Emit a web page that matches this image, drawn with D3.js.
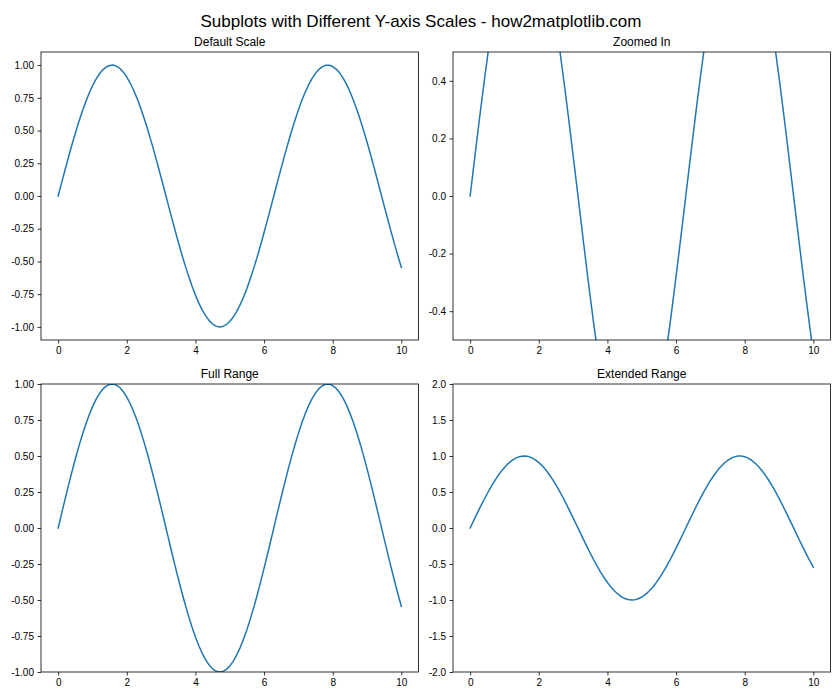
<!DOCTYPE html>
<html><head><meta charset="utf-8">
<script src="https://cdn.jsdelivr.net/npm/d3@7"></script>
<style>body{margin:0;background:#fff}svg{display:block}text{font-family:"Liberation Sans",Arial,sans-serif;fill:#000}</style>
</head><body><svg id="c" width="840" height="700"></svg>
<script>
const xValues = [0,0.1,0.2,0.3,0.4,0.5,0.6,0.7,0.8,0.9,1,1.1,1.2,1.3,1.4,1.5,1.6,1.7,1.8,1.9,2,2.1,2.2,2.3,2.4,2.5,2.6,2.7,2.8,2.9,3,3.1,3.2,3.3,3.4,3.5,3.6,3.7,3.8,3.9,4,4.1,4.2,4.3,4.4,4.5,4.6,4.7,4.8,4.9,5,5.1,5.2,5.3,5.4,5.5,5.6,5.7,5.8,5.9,6,6.1,6.2,6.3,6.4,6.5,6.6,6.7,6.8,6.9,7,7.1,7.2,7.3,7.4,7.5,7.6,7.7,7.8,7.9,8,8.1,8.2,8.3,8.4,8.5,8.6,8.7,8.8,8.9,9,9.1,9.2,9.3,9.4,9.5,9.6,9.7,9.8,9.9,10];
const yValues = [0.000,0.100,0.199,0.296,0.389,0.479,0.565,0.644,0.717,0.783,0.841,0.891,0.932,0.964,0.985,0.997,1.000,0.992,0.974,0.946,0.909,0.863,0.808,0.746,0.675,0.598,0.516,0.427,0.335,0.239,0.141,0.042,-0.058,-0.158,-0.256,-0.351,-0.443,-0.530,-0.612,-0.688,-0.757,-0.818,-0.872,-0.916,-0.952,-0.978,-0.994,-1.000,-0.996,-0.982,-0.959,-0.926,-0.883,-0.832,-0.773,-0.706,-0.631,-0.551,-0.465,-0.374,-0.279,-0.182,-0.083,0.017,0.117,0.215,0.312,0.405,0.494,0.578,0.657,0.729,0.794,0.850,0.899,0.938,0.968,0.988,0.999,0.999,0.989,0.970,0.941,0.902,0.855,0.798,0.734,0.663,0.585,0.501,0.412,0.319,0.223,0.124,0.025,-0.075,-0.174,-0.272,-0.366,-0.458,-0.544];
const xTicks = [0,2,4,6,8,10];
const panelTitles = ["Default Scale","Zoomed In","Full Range","Extended Range"];
const yDomains = [[-1.1,1.1],[-0.5,0.5],[-1,1],[-2,2]];
const yTickLists = [
  [-1,-0.75,-0.5,-0.25,0,0.25,0.5,0.75,1],
  [-0.4,-0.2,0,0.2,0.4],
  [-1,-0.75,-0.5,-0.25,0,0.25,0.5,0.75,1],
  [-2,-1.5,-1,-0.5,0,0.5,1,1.5,2]
];
const yFormats = [".2f",".1f",".2f",".1f"];
const suptitle = "Subplots with Different Y-axis Scales - how2matplotlib.com";

const svg = d3.select("#c");
const data = xValues.map((x,i)=>({x, y:yValues[i]}));
svg.append("text").attr("x",421).attr("y",27).attr("text-anchor","middle")
  .style("font-size","17px").text(suptitle);

const lefts=[41,453], tops=[52,384], W=377.5, H=288;
panelTitles.forEach((t,i)=>{
  const L=lefts[i%2], T=tops[Math.floor(i/2)];
  const g=svg.append("g").attr("transform",`translate(${L},${T})`);
  const x=d3.scaleLinear().domain([-0.5,10.5]).range([0,W]);
  const y=d3.scaleLinear().domain(yDomains[i]).range([H,0]);
  const cid="clip"+i;
  g.append("clipPath").attr("id",cid).append("rect").attr("width",W).attr("height",H);
  g.append("path").datum(data).attr("clip-path",`url(#${cid})`)
    .attr("fill","none").attr("stroke","#1f77b4").attr("stroke-width",1.5)
    .attr("stroke-linejoin","round").attr("stroke-linecap","square")
    .attr("d",d3.line().x(d=>x(d.x)).y(d=>y(d.y)));
  const fmt=d3.format(yFormats[i]);
  const xa=g.append("g").attr("transform",`translate(0,${H})`)
    .call(d3.axisBottom(x).tickValues(xTicks).tickSize(3.5).tickPadding(3.5).tickFormat(d3.format("d")));
  const ya=g.append("g")
    .call(d3.axisLeft(y).tickValues(yTickLists[i]).tickSize(3.5).tickPadding(3.5).tickFormat(d=>fmt(d).replace("\u2212","-")));
  [xa,ya].forEach(a=>{a.select(".domain").remove();a.selectAll("line").attr("stroke","#000").attr("stroke-width",0.8);
    a.selectAll("text").style("font-size","10px").attr("fill","#000").style("font-family","'Liberation Sans',Arial,sans-serif");});
  g.append("rect").attr("width",W).attr("height",H).attr("fill","none").attr("stroke","#000").attr("stroke-width",0.8);
  g.append("text").attr("x",W/2).attr("y",-6).attr("text-anchor","middle").style("font-size","12px").text(t);
});
</script></body></html>
